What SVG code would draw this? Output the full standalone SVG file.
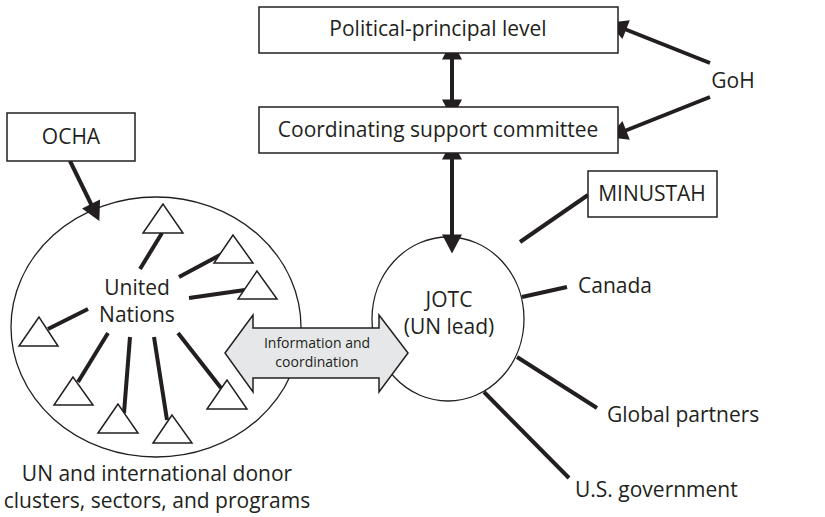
<svg xmlns="http://www.w3.org/2000/svg" width="825" height="517" viewBox="0 0 825 517">
<defs>
<style>
text{font-family:"Open Sans","Noto Sans","DejaVu Sans",sans-serif;fill:#231f20;font-size:21px}
.box{fill:#fff;stroke:#231f20;stroke-width:1.5}
.shape{fill:#fff;stroke:#231f20;stroke-width:1.3}
.tri{fill:#fff;stroke:#231f20;stroke-width:1.5}
.ln{stroke:#231f20;stroke-width:4;fill:none}
.arr{stroke:#231f20;stroke-width:4;fill:none;marker-end:url(#ah)}
.dbl{stroke:#231f20;stroke-width:4;fill:none;marker-end:url(#ah);marker-start:url(#ah)}
text.small{font-size:14px}
</style>
<marker id="ah" markerUnits="userSpaceOnUse" markerWidth="20" markerHeight="20" viewBox="0 0 17 18" refX="4" refY="9" orient="auto-start-reverse">
<path d="M0,0 L17,9 L0,18 Z" fill="#231f20"/>
</marker>
</defs>
<rect width="825" height="517" fill="#fff"/>

<g id="un-ellipse">
<ellipse class="shape" cx="156" cy="327" rx="145" ry="130"/>
<text x="137" y="295" text-anchor="middle">United</text>
<text x="137" y="322" text-anchor="middle">Nations</text>
</g>

<g id="jotc">
<ellipse class="shape" cx="448" cy="319" rx="76" ry="82"/>
<text x="449" y="307" text-anchor="middle">JOTC</text>
<text x="449" y="334" text-anchor="middle">(UN lead)</text>
</g>

<g id="connectors">
<line class="dbl" x1="452" y1="55" x2="452" y2="104"/>
<line class="dbl" x1="452" y1="155" x2="452" y2="239"/>
<line class="arr" x1="710" y1="63" x2="622" y2="28"/>
<line class="arr" x1="710" y1="97" x2="622" y2="132"/>
<line class="arr" x1="70" y1="161" x2="93" y2="208"/>
<line class="ln" x1="588" y1="195" x2="520" y2="242"/>
<line class="ln" x1="522" y1="297" x2="567" y2="287"/>
<line class="ln" x1="517" y1="357" x2="597" y2="408"/>
<line class="ln" x1="484" y1="392" x2="569" y2="478"/>
<line class="ln" x1="140" y1="269" x2="162" y2="233"/>
<line class="ln" x1="179" y1="277" x2="222" y2="254"/>
<line class="ln" x1="189" y1="298" x2="245" y2="290"/>
<line class="ln" x1="88" y1="309" x2="48" y2="329"/>
<line class="ln" x1="108" y1="333" x2="78" y2="382"/>
<line class="ln" x1="130" y1="337" x2="124" y2="413"/>
<line class="ln" x1="154" y1="337" x2="167" y2="420"/>
<line class="ln" x1="178" y1="333" x2="221" y2="388"/>
</g>

<g id="triangles">
<polygon class="tri" points="163,204 143,233 183,233"/>
<polygon class="tri" points="233,235 214,263 253,263"/>
<polygon class="tri" points="257,271 238,299 277,299"/>
<polygon class="tri" points="39,317 19,346 58,346"/>
<polygon class="tri" points="73,377 54,405 93,405"/>
<polygon class="tri" points="118,404 98,433 138,433"/>
<polygon class="tri" points="172,415 153,443 192,443"/>
<polygon class="tri" points="227,380 207,409 247,409"/>
</g>

<g id="info-arrow">
<polygon points="225,353 253,315 253,328 379,328 379,315 408,353 379,392 379,378 253,378 253,392" fill="#e6e7e8" stroke="#231f20" stroke-width="1.5"/>
<text class="small" x="317" y="348" text-anchor="middle">Information and</text>
<text class="small" x="317" y="367" text-anchor="middle">coordination</text>
</g>

<g id="political">
<rect class="box" x="259" y="7" width="359" height="46"/>
<text x="438" y="36" text-anchor="middle">Political-principal level</text>
</g>

<g id="coordinating">
<rect class="box" x="259" y="107" width="359" height="46"/>
<text x="438" y="137" text-anchor="middle">Coordinating support committee</text>
</g>

<g id="goh"><text x="733" y="88" text-anchor="middle">GoH</text></g>

<g id="ocha">
<rect class="box" x="7" y="113" width="128" height="48"/>
<text x="71" y="144" text-anchor="middle">OCHA</text>
</g>

<g id="minustah">
<rect class="box" x="588" y="171" width="129" height="46"/>
<text x="652" y="201" text-anchor="middle">MINUSTAH</text>
</g>

<g id="canada"><text x="578" y="293">Canada</text></g>
<g id="global"><text x="607" y="422">Global partners</text></g>
<g id="usgov"><text x="575" y="497">U.S. government</text></g>

<g id="caption">
<text x="157" y="481" text-anchor="middle">UN and international donor</text>
<text x="157" y="508" text-anchor="middle">clusters, sectors, and programs</text>
</g>
</svg>
